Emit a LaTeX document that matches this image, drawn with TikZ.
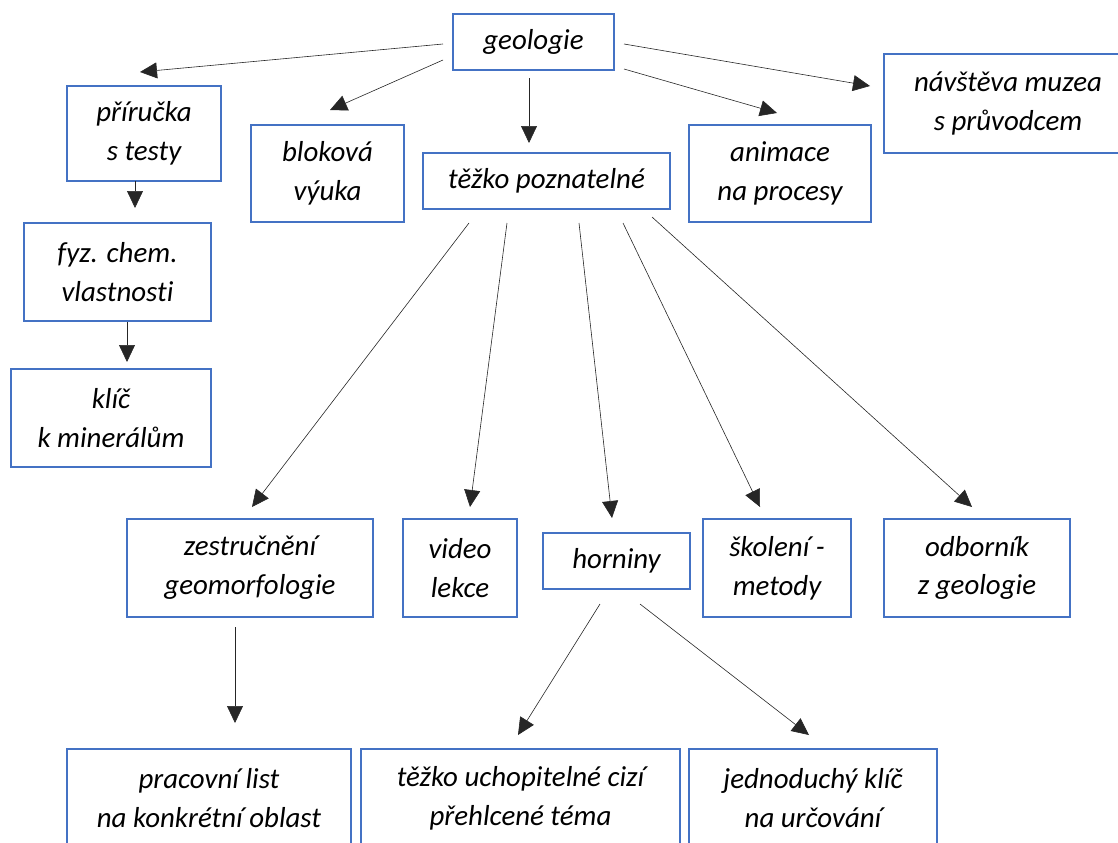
\documentclass[tikz,border=0pt]{standalone}
\usepackage{fontspec}
\setmainfont{Carlito}[Ligatures=NoCommon]
\usetikzlibrary{arrows.meta}
\definecolor{boxblue}{HTML}{4472C4}
\tikzset{
  box/.style={draw=boxblue, line width=2.6bp, inner sep=0pt, align=center,
    font=\fontsize{29}{39}\selectfont\itshape},
  conn/.style={draw=black!85, line width=0.6bp, -{Triangle[length=17bp,width=16bp]}}
}
\begin{document}
\begin{tikzpicture}[x=1bp,y=-1bp]
\useasboundingbox (0,0) rectangle (1118,843);
% nodes
\node[box, minimum width=161bp, minimum height=56bp] (geo) at (533.5,42) {geologie};
\node[box, minimum width=154bp, minimum height=95bp] (pri) at (144,133.5) {příručka\\s testy};
\node[box, minimum width=153bp, minimum height=97bp] (blok) at (327.5,173.5) {bloková\\výuka};
\node[box, minimum width=247bp, minimum height=56bp] (tez) at (546.5,181) {těžko poznatelné};
\node[box, minimum width=182bp, minimum height=97bp] (anim) at (780,173.5) {animace\\na procesy};
\node[box, minimum width=248bp, minimum height=99bp] (nav) at (1008,103.5) {návštěva muzea\\s průvodcem};
\node[box, minimum width=187bp, minimum height=98bp] (fyz) at (117.5,272) {fyz. chem.\\vlastnosti};
\node[box, minimum width=200bp, minimum height=98bp] (klic) at (111,418) {klíč\\k minerálům};
\node[box, minimum width=246bp, minimum height=98bp] (zest) at (250,568) {zestručnění\\geomorfologie};
\node[box, minimum width=114bp, minimum height=98bp] (video) at (460,568) {video\\lekce};
\node[box, minimum width=147bp, minimum height=56bp] (horn) at (616.5,561) {horniny};
\node[box, minimum width=148bp, minimum height=98bp] (skol) at (777,568) {školení -\\metody};
\node[box, minimum width=186bp, minimum height=98bp] (odb) at (977,568) {odborník\\z geologie};
\node[box, minimum width=284bp, minimum height=98bp] (prac) at (209,798) {pracovní list\\na konkrétní oblast};
\node[box, minimum width=319bp, minimum height=98bp] (uch) at (520.5,798) {těžko uchopitelné cizí\\přehlcené téma};
\node[box, minimum width=248bp, minimum height=98bp] (jedn) at (813,798) {jednoduchý klíč\\na určování};
% connector end points
\coordinate (g1s) at (443,44);  \coordinate (g1e) at (140,72);
\coordinate (g2s) at (443,60);  \coordinate (g2e) at (330,110);
\coordinate (g3s) at (529,78);  \coordinate (g3e) at (529,143);
\coordinate (g4s) at (624,69);  \coordinate (g4e) at (777,113);
\coordinate (g5s) at (624,44);  \coordinate (g5e) at (870,86);
\coordinate (p1s) at (135,181); \coordinate (p1e) at (135,208);
\coordinate (f1s) at (127,322); \coordinate (f1e) at (127,362);
\coordinate (t1s) at (469,223); \coordinate (t1e) at (252,507);
\coordinate (t2s) at (507,223); \coordinate (t2e) at (470,507);
\coordinate (t3s) at (579,223); \coordinate (t3e) at (612,518);
\coordinate (t4s) at (623,223); \coordinate (t4e) at (760,507);
\coordinate (t5s) at (652,217); \coordinate (t5e) at (972,507);
\coordinate (z1s) at (235,627); \coordinate (z1e) at (235,723);
\coordinate (h1s) at (600,604); \coordinate (h1e) at (518,735);
\coordinate (h2s) at (640,604); \coordinate (h2e) at (809,735);
% connectors
\draw[conn] (g1s) -- (g1e);
\draw[conn] (g2s) -- (g2e);
\draw[conn] (g3s) -- (g3e);
\draw[conn] (g4s) -- (g4e);
\draw[conn] (g5s) -- (g5e);
\draw[conn] (p1s) -- (p1e);
\draw[conn] (f1s) -- (f1e);
\draw[conn] (t1s) -- (t1e);
\draw[conn] (t2s) -- (t2e);
\draw[conn] (t3s) -- (t3e);
\draw[conn] (t4s) -- (t4e);
\draw[conn] (t5s) -- (t5e);
\draw[conn] (z1s) -- (z1e);
\draw[conn] (h1s) -- (h1e);
\draw[conn] (h2s) -- (h2e);
\end{tikzpicture}
\end{document}
